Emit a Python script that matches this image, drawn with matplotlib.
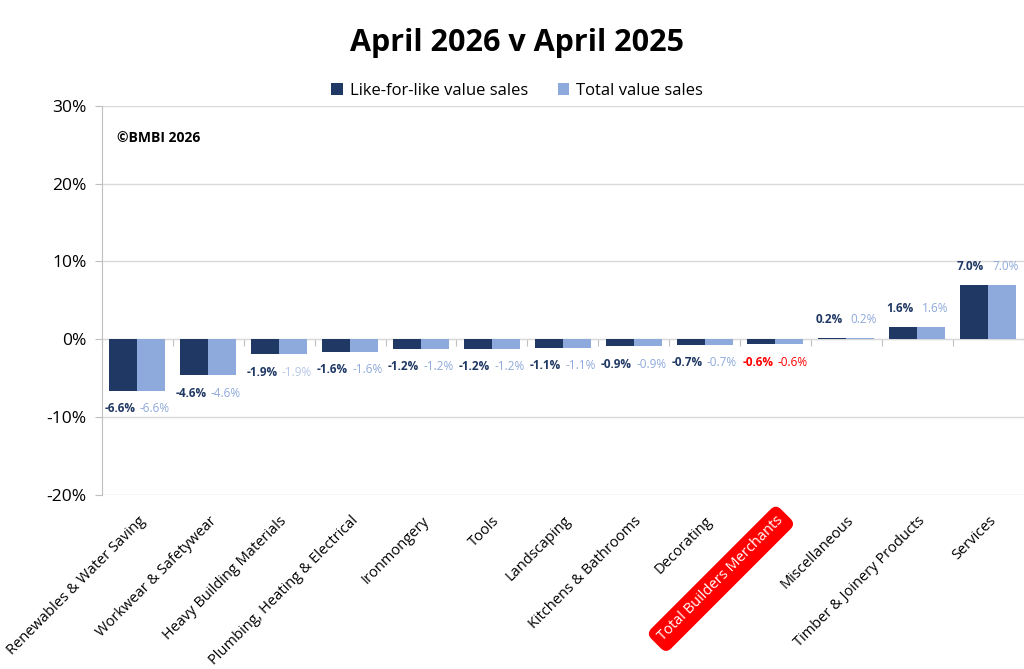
import numpy as np
import matplotlib
matplotlib.use("Agg")
import matplotlib.pyplot as plt
from matplotlib.ticker import FuncFormatter

plt.rcParams['font.family'] = ['Open Sans', 'DejaVu Sans']

categories = ["Renewables & Water Saving", "Workwear & Safetywear", "Heavy Building Materials",
              "Plumbing, Heating & Electrical", "Ironmongery", "Tools", "Landscaping",
              "Kitchens & Bathrooms", "Decorating", "Total Builders Merchants",
              "Miscellaneous", "Timber & Joinery Products", "Services"]
lfl = [-6.6, -4.6, -1.9, -1.6, -1.2, -1.2, -1.1, -0.9, -0.7, -0.6, 0.2, 1.6, 7.0]
total = [-6.6, -4.6, -1.9, -1.6, -1.2, -1.2, -1.1, -0.9, -0.7, -0.6, 0.2, 1.6, 7.0]
yticks = [-20, -10, 0, 10, 20, 30]

dark = "#1F3864"
light = "#8EA9DB"
highlight = "Total Builders Merchants"

fig = plt.figure(figsize=(10.24, 6.69), dpi=100)
ax = fig.add_axes([0.0996, 0.2601, 0.9, 0.5819])

x = np.arange(len(categories))
w = 0.395
b1 = ax.bar(x - w / 2, lfl, w, color=dark, label="Like-for-like value sales", zorder=3)
b2 = ax.bar(x + w / 2, total, w, color=light, label="Total value sales", zorder=3)

ax.set_xlim(-0.5, len(categories) - 0.5)
ax.set_ylim(-20, 30)
ax.set_yticks(yticks)
ax.yaxis.set_major_formatter(FuncFormatter(lambda v, p: f"{v:.0f}%"))
ax.tick_params(axis='y', length=5, color="#BFBFBF", labelsize=12.5, pad=6)
ax.grid(axis='y', color="#D9D9D9", linewidth=1, zorder=0)
ax.set_axisbelow(True)
for s in ['top', 'right', 'bottom']:
    ax.spines[s].set_visible(False)
ax.spines['left'].set_color("#BFBFBF")

# category labels at the bottom
ax.set_xticks(x + 0.08)
ax.set_xticklabels(categories, rotation=45, ha='right', va='center', rotation_mode='anchor', fontsize=10.5)
ax.tick_params(axis='x', length=0, pad=17)
for lab in ax.get_xticklabels():
    if lab.get_text() == highlight:
        lab.set_color("white")
        lab.set_bbox(dict(boxstyle="round,pad=0.45,rounding_size=0.5", fc="#FF0000", ec="none"))

# zero axis with boundary ticks
sec = ax.secondary_xaxis(20 / 50)
sec.set_xticks(np.arange(len(categories) + 1) - 0.5)
sec.set_xticklabels([])
sec.tick_params(axis='x', direction='out', length=5, color="#BFBFBF")
sec.spines['bottom'].set_color("#BFBFBF")

# data labels
for i, (a, b) in enumerate(zip(lfl, total)):
    c1, c2 = dark, light
    if categories[i] == highlight:
        c1 = c2 = "#FF0000"
    if categories[i] == "Heavy Building Materials":
        c2 = "#B4C7E7"
    for xv, v, c, fw, dx in [(i - w / 2, a, c1, 'bold', -2.5), (i + w / 2, b, c2, 'normal', 2.5)]:
        off = 13 if v >= 0 else -13
        ax.annotate(f"{v:.1f}%", (xv, v), xytext=(dx, off), textcoords='offset points',
                    ha='center', va='center', fontsize=8.5, color=c, fontweight=fw, zorder=4)

ax.text(0.016, 0.918, "©BMBI 2026", transform=ax.transAxes, fontsize=10, fontweight='bold',
        ha='left', va='center')

fig.text(0.505, 0.936, "April 2026 v April 2025", ha='center', va='center', fontsize=22, fontweight='bold')
fig.legend(handles=[b1, b2], loc='center', bbox_to_anchor=(0.505, 0.864), ncol=2, frameon=False,
           fontsize=12, handlelength=0.7, handleheight=0.7, columnspacing=1.8, handletextpad=0.4)

fig.savefig("out.png", dpi=100)
